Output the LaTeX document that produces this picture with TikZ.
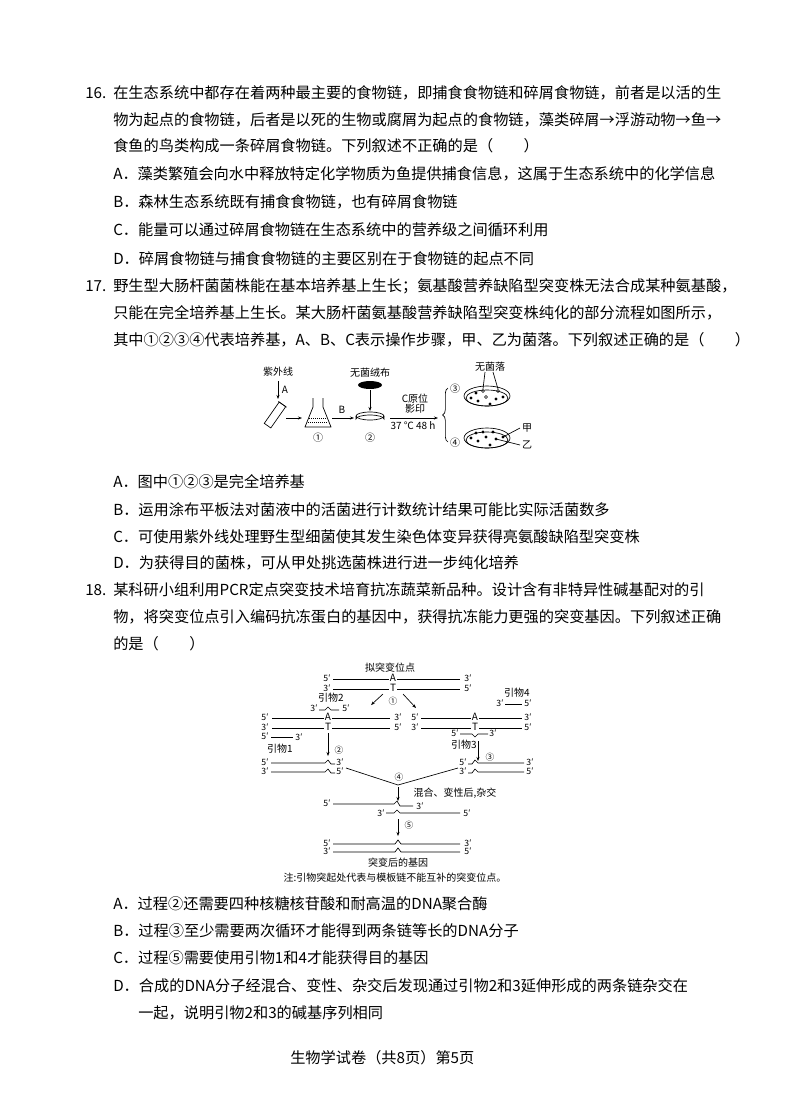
\documentclass[tikz,border=0pt]{standalone}
\usepackage{fontspec}
\setmainfont{Noto Sans CJK SC}
\usetikzlibrary{decorations.pathreplacing,arrows.meta}
\tikzset{
 line/.style={anchor=west,inner sep=0pt,font=\fontsize{11.4pt}{13pt}\selectfont},
 fl/.style={inner sep=0pt,font=\fontsize{7.5pt}{8pt}\selectfont},
 fs/.style={inner sep=0pt,font=\fontsize{6.5pt}{7pt}\selectfont},
 ar/.style={-{Stealth[length=3pt]},line width=0.5pt},
 st/.style={line width=0.5pt},
}
\begin{document}
\begin{tikzpicture}[x=0.75pt,y=-0.75pt]
\fill[white] (0,0) rectangle (800,1108);
\useasboundingbox (0,0) rectangle (800,1108);
% Q16
\node[line] (n16) at (85,93) {16.};
\node[line] (a1) at (113,93) {在生态系统中都存在着两种最主要的食物链，即捕食食物链和碎屑食物链，前者是以活的生};
\node[line] (a2) at (113,120) {物为起点的食物链，后者是以死的生物或腐屑为起点的食物链，藻类碎屑→浮游动物→鱼→};
\node[line] (a3) at (113,146) {食鱼的鸟类构成一条碎屑食物链。下列叙述不正确的是（　　）};
\node[line] (a4) at (113,174) {A．藻类繁殖会向水中释放特定化学物质为鱼提供捕食信息，这属于生态系统中的化学信息};
\node[line] (a5) at (113,202) {B．森林生态系统既有捕食食物链，也有碎屑食物链};
\node[line] (a6) at (113,230) {C．能量可以通过碎屑食物链在生态系统中的营养级之间循环利用};
\node[line] (a7) at (113,259) {D．碎屑食物链与捕食食物链的主要区别在于食物链的起点不同};
% Q17
\node[line] (n17) at (85,286) {17.};
\node[line] (b1) at (113,286) {野生型大肠杆菌菌株能在基本培养基上生长；氨基酸营养缺陷型突变株无法合成某种氨基酸，};
\node[line] (b2) at (113,313) {只能在完全培养基上生长。某大肠杆菌氨基酸营养缺陷型突变株纯化的部分流程如图所示，};
\node[line] (b3) at (113,340) {其中①②③④代表培养基，A、B、C表示操作步骤，甲、乙为菌落。下列叙述正确的是（　　）};
\node[line] (b4) at (113,482) {A．图中①②③是完全培养基};
\node[line] (b5) at (113,510) {B．运用涂布平板法对菌液中的活菌进行计数统计结果可能比实际活菌数多};
\node[line] (b6) at (113,537) {C．可使用紫外线处理野生型细菌使其发生染色体变异获得亮氨酸缺陷型突变株};
\node[line] (b7) at (113,563) {D．为获得目的菌株，可从甲处挑选菌株进行进一步纯化培养};
% Q18
\node[line] (n18) at (85,590) {18.};
\node[line] (c1) at (113,590) {某科研小组利用PCR定点突变技术培育抗冻蔬菜新品种。设计含有非特异性碱基配对的引};
\node[line] (c2) at (113,617) {物，将突变位点引入编码抗冻蛋白的基因中，获得抗冻能力更强的突变基因。下列叙述正确};
\node[line] (c3) at (113,644) {的是（　　）};
\node[line] (c4) at (113,904) {A．过程②还需要四种核糖核苷酸和耐高温的DNA聚合酶};
\node[line] (c5) at (113,931) {B．过程③至少需要两次循环才能得到两条链等长的DNA分子};
\node[line] (c6) at (113,958) {C．过程⑤需要使用引物1和4才能获得目的基因};
\node[line] (c7) at (113,986) {D．合成的DNA分子经混合、变性、杂交后发现通过引物2和3延伸形成的两条链杂交在};
\node[line] (c8) at (138,1013) {一起，说明引物2和3的碱基序列相同};
\node[line] (ft) at (290,1058) {生物学试卷（共8页）第5页};

% ---- Figure 1 ----
\node[fl] (uv) at (278,372) {紫外线};
\node[fl] (lA) at (285,390) {A};
\draw[ar] (278,381) -- (278,399);
\draw[st,rotate around={-35:(275,415)}] (271,402) rectangle (279,428);
\draw[st,rotate around={-35:(275,415)}] (270,402) -- (280,402);
\draw[ar] (286,418) -- (302,418);
\draw[st] (313,398) -- (313,407) -- (305,427) -- (331,427) -- (323,407) -- (323,398);
\draw[st,densely dotted] (309,418) -- (327,418);
\draw[st,densely dotted] (308,422) -- (328,422);
\node[fl] (c1n) at (318,438) {①};
\draw[ar] (332,418) -- (354,418);
\node[fl] (lB) at (342,410) {B};
\node[fl] (velv) at (370,373) {无菌绒布};
\fill (370,385) ellipse [x radius=12,y radius=4];
\draw[ar] (370,390) -- (370,411);
\draw[st] (370,416) ellipse [x radius=14,y radius=4];
\draw[st] (356,416) -- (356,419) arc[start angle=180,end angle=360,x radius=14,y radius=4] -- (384,416);
\node[fl] (c2n) at (370,438) {②};
\draw[ar] (390,418) -- (438,418);
\node[fl] (lC) at (415,399) {C原位};
\node[fl] (lC2) at (415,409) {影印};
\node[fl] (lT) at (413,426) {37 ℃ 48 h};
\draw[st,decorate,decoration={brace,amplitude=4pt}] (448,442) -- (448,388);
\node[fl] (c3n) at (455,389) {③};
\node[fl] (c4n) at (455,443) {④};
\draw[st] (487,396) ellipse [x radius=23,y radius=10];
\draw[st] (487,398) ellipse [x radius=21,y radius=8];
\draw[st] (487,438) ellipse [x radius=23,y radius=10];
\draw[st] (487,440) ellipse [x radius=21,y radius=8];
\node[fl] (nocol) at (490,367) {无菌落};
\draw[st] (485,372) -- (483,389);
\draw[st] (493,372) -- (498,389);
\draw[st] (483,391) circle (1.5);
\draw[st] (498,391) circle (1.5);
\draw[st] (486,397) circle (1.5);
\foreach \p in {(476,393),(478,401),(490,404),(496,399),(503,397),(471,398)} \fill \p circle (1.6);
\foreach \p in {(476,433),(478,441),(486,437),(490,445),(496,439),(503,437),(471,438),(483,432),(493,432)} \fill \p circle (1.6);
\node[fl] (jia) at (527,428) {甲};
\node[fl] (yi) at (527,445) {乙};
\draw[st] (520,428) -- (503,437);
\draw[st] (520,445) -- (496,439);

% ---- Figure 2 ----
\node[fl] (site) at (390,668) {拟突变位点};
\node[fs] at (327,678) {5′}; \node[fs] at (468,678) {3′};
\node[fs] at (327,688) {3′}; \node[fs] at (468,688) {5′};
\draw[st] (333,679) -- (460,679); \draw[st] (333,689) -- (460,689);
\node[fl,fill=white,inner sep=0.5pt] at (393,678) {A};
\node[fl,fill=white,inner sep=0.5pt] at (393,688) {T};
\draw[ar] (383,694) -- (371,705);
\draw[ar] (403,694) -- (416,708);
\node[fs] at (393,701) {①};
% left duplex
\node[fl] (p2) at (331,698) {引物2};
\node[fs] at (314,708) {3′}; \node[fs] at (346,708) {5′};
\draw[st] (319,710) -- (325,710) -- (328,707) -- (331,710) -- (339,710);
\node[fs] at (265,717) {5′}; \node[fs] at (398,717) {3′};
\node[fs] at (265,727) {3′}; \node[fs] at (398,727) {5′};
\draw[st] (272,718) -- (390,718); \draw[st] (272,728) -- (390,728);
\node[fl,fill=white,inner sep=0.5pt] at (328,717) {A};
\node[fl,fill=white,inner sep=0.5pt] at (328,727) {T};
\node[fs] at (265,736) {5′}; \node[fs] at (299,737) {3′};
\draw[st] (271,737) -- (293,737);
\node[fl] (p1) at (280,749) {引物1};
\draw[ar] (328,733) -- (328,756);
\node[fs] at (339,750) {②};
% right duplex
\node[fl] (p4) at (517,693) {引物4};
\node[fs] at (500,703) {3′}; \node[fs] at (528,703) {5′};
\draw[st] (505,704) -- (522,704);
\node[fs] at (415,717) {5′}; \node[fs] at (528,717) {3′};
\node[fs] at (415,727) {3′}; \node[fs] at (528,727) {5′};
\draw[st] (421,718) -- (522,718); \draw[st] (421,728) -- (522,728);
\node[fl,fill=white,inner sep=0.5pt] at (475,717) {A};
\node[fl,fill=white,inner sep=0.5pt] at (475,727) {T};
\node[fs] at (455,733) {5′}; \node[fs] at (493,733) {3′};
\draw[st] (460,734) -- (472,734) -- (475,737) -- (478,734) -- (488,734);
\node[fl] (p3) at (464,745) {引物3};
\draw[ar] (478,741) -- (478,761);
\node[fs] at (490,757) {③};
% lower pairs
\node[fs] at (265,762) {5′}; \node[fs] at (340,762) {3′};
\node[fs] at (265,771) {3′}; \node[fs] at (340,771) {5′};
\draw[st] (271,763) -- (325,763) -- (328,760) -- (331,764) -- (335,764);
\draw[st] (271,772) -- (325,772) -- (328,769) -- (331,773) -- (335,773);
\node[fs] at (463,762) {5′}; \node[fs] at (530,762) {3′};
\node[fs] at (463,771) {3′}; \node[fs] at (530,771) {5′};
\draw[st] (468,764) -- (472,764) -- (475,760) -- (478,763) -- (524,763);
\draw[st] (468,773) -- (472,773) -- (475,769) -- (478,772) -- (524,772);
\draw[st] (346,768) -- (398,785) -- (458,768);
\node[fs] at (399,777) {④};
\draw[ar] (398,787) -- (398,801);
\node[fl] (mix) at (455,793) {混合、变性后,杂交};
\node[fs] at (327,803) {5′}; \node[fs] at (420,806) {3′};
\draw[st] (333,804) -- (394,804) -- (397,801) -- (400,806) -- (413,806);
\node[fs] at (381,813) {3′}; \node[fs] at (467,813) {5′};
\draw[st] (386,813) -- (394,813) -- (397,810) -- (400,813) -- (460,813);
\draw[ar] (398,819) -- (398,836);
\node[fs] at (409,825) {⑤};
\node[fs] at (327,843) {5′}; \node[fs] at (468,843) {3′};
\node[fs] at (327,851) {3′}; \node[fs] at (468,851) {5′};
\draw[st] (333,844) -- (395,844) -- (398,840) -- (401,844) -- (460,844);
\draw[st] (333,852) -- (395,852) -- (398,848) -- (401,852) -- (460,852);
\node[fl] (gene) at (398,863) {突变后的基因};
\node[fl] (note) at (395,878) {注:引物突起处代表与模板链不能互补的突变位点。};
\end{tikzpicture}
\end{document}
